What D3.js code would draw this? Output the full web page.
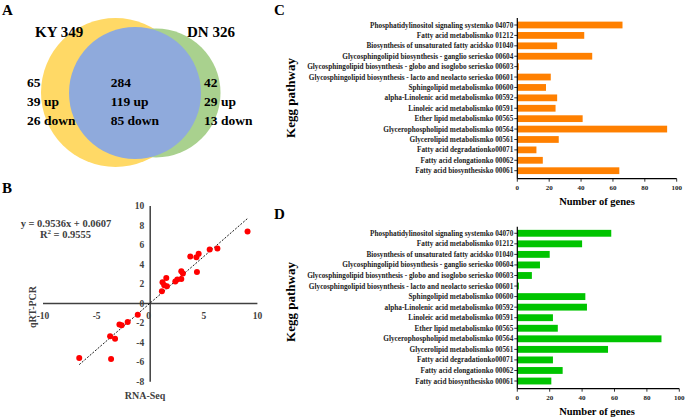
<!DOCTYPE html>
<html>
<head>
<meta charset="utf-8">
<script src="https://cdn.jsdelivr.net/npm/d3@7"></script>
<style>
  body { margin: 0; background: #fff; }
  svg { display: block; font-family: "Liberation Serif", "Times New Roman", serif; font-weight: bold; }
</style>
</head>
<body>
<svg id="fig" width="685" height="418"></svg>
<script>
// Panel A: Venn counts
var vennSets = ["KY 349", "DN 326"];
var vennLeft = ["65", "39 up", "26 down"],
    vennMid = ["284", "119 up", "85 down"],
    vennRight = ["42", "29 up", "13 down"];

// Panel B: RNA-Seq vs qRT-PCR (log2 fold change)
var rnaSeq = [9.08, 5.55, 6.27, 3.74, 4.31, 4.52, 4.36, 2.90, 3.05, 2.90, 2.53, 2.34, 1.50, 1.15, 1.31, 1.56, 1.09,
              -1.16, -2.10, -2.87, -2.66, -3.74, -3.28, -3.65, -6.62];
var qpcr = [7.38, 5.54, 5.64, 4.82, 4.75, 5.10, 3.25, 3.31, 3.08, 2.53, 2.46, 2.26, 2.63, 2.19, 1.88, 1.78, 1.26,
            -1.13, -1.88, -2.15, -2.22, -3.35, -3.59, -5.67, -5.57];
var xTicksB = [-10, -5, 0, 5, 10],
    yTicksB = [-8, -6, -4, -2, 0, 2, 4, 6, 8, 10];
var slope = 0.9536, intercept = 0.0607;

// Panels C, D: KEGG pathways
var pathways = [
  "Phosphatidylinositol signaling systemko 04070",
  "Fatty acid metabolismko 01212",
  "Biosynthesis of unsaturated fatty acidsko 01040",
  "Glycosphingolipid biosynthesis - ganglio seriesko 00604",
  "Glycosphingolipid biosynthesis - globo and isoglobo seriesko 00603",
  "Glycosphingolipid biosynthesis - lacto and neolacto seriesko 00601",
  "Sphingolipid metabolismko 00600",
  "alpha-Linolenic acid metabolismko 00592",
  "Linoleic acid metabolismko 00591",
  "Ether lipid metabolismko 00565",
  "Glycerophospholipid metabolismko 00564",
  "Glycerolipid metabolismko 00561",
  "Fatty acid degradationko00071",
  "Fatty acid elongationko 00062",
  "Fatty acid biosynthesisko 00061"
];
var genesC = [66, 42, 25, 47, 1, 21, 18, 25, 24, 41, 94, 26, 12, 16, 64];
var genesD = [58, 40, 20, 14, 9, 1, 42, 43, 22, 25, 89, 56, 22, 28, 21];
var geneTicks = [0, 20, 40, 60, 80, 100];

var svg = d3.select("#fig");

function panelLetter(t, x, y) {
  svg.append("text").attr("x", x).attr("y", y).attr("font-size", 15).text(t);
}

// ---------- A ----------
panelLetter("A", 2, 15);
var a = svg.append("g");
a.append("circle").attr("cx", 115.5).attr("cy", 92.5).attr("r", 74.5).attr("fill", "#FFD966");
a.append("circle").attr("cx", 156).attr("cy", 93).attr("r", 64.5).attr("fill", "#A9D18E");
a.append("circle").attr("cx", 135).attr("cy", 93).attr("r", 66).attr("fill", "#8FAADC");
a.append("text").attr("x", 35).attr("y", 37).attr("font-size", 15).text(vennSets[0]);
a.append("text").attr("x", 187).attr("y", 37).attr("font-size", 15).text(vennSets[1]);
[[vennLeft, 27], [vennMid, 110.7], [vennRight, 204]].forEach(function(g) {
  g[0].forEach(function(t, i) {
    a.append("text").attr("x", g[1]).attr("y", 87 + i * 19).attr("font-size", 13.5).text(t);
  });
});

// ---------- B ----------
panelLetter("B", 2, 193);
var xB = d3.scaleLinear().domain([-10, 10]).range([43, 257.4]),
    yB = d3.scaleLinear().domain([-8, 10]).range([381.7, 206]);
var b = svg.append("g");
b.append("line").attr("x1", xB(-10)).attr("x2", xB(10)).attr("y1", yB(0)).attr("y2", yB(0))
  .attr("stroke", "#404040").attr("stroke-width", 1.5);
b.append("line").attr("x1", xB(0)).attr("x2", xB(0)).attr("y1", yB(10)).attr("y2", yB(-8))
  .attr("stroke", "#404040").attr("stroke-width", 1.5);
b.selectAll("text.xt").data(xTicksB).enter().append("text")
  .attr("x", function(d) { return d === 0 ? xB(0) - 1.5 : xB(d); })
  .attr("y", yB(0) + 15).attr("text-anchor", "middle").attr("font-size", 9.5)
  .attr("fill", "#404040").text(function(d) { return d; });
b.selectAll("text.yt").data(yTicksB).enter().append("text")
  .attr("x", xB(0) - 6).attr("y", function(d) { return yB(d) + 3.3; })
  .attr("text-anchor", "end").attr("font-size", 9.5).attr("fill", "#404040")
  .text(function(d) { return d; });

var xMin = d3.min(rnaSeq), xMax = d3.max(rnaSeq);
b.append("line").attr("x1", xB(xMin)).attr("y1", yB(slope * xMin + intercept))
  .attr("x2", xB(xMax)).attr("y2", yB(slope * xMax + intercept))
  .attr("stroke", "#000").attr("stroke-width", 0.9).attr("stroke-dasharray", "2,1.5");

b.selectAll("circle").data(rnaSeq).enter().append("circle")
  .attr("cx", function(d) { return xB(d); })
  .attr("cy", function(d, i) { return yB(qpcr[i]); })
  .attr("r", 3).attr("fill", "#FF0000");

b.append("text").attr("x", 66).attr("y", 226.5).attr("text-anchor", "middle").attr("font-size", 10.5)
  .attr("fill", "#404040").text("y = " + slope + "x + " + intercept);
var r2 = b.append("text").attr("x", 65.5).attr("y", 237.5).attr("text-anchor", "middle")
  .attr("font-size", 10.5).attr("fill", "#404040");
r2.append("tspan").text("R");
r2.append("tspan").attr("dy", -4).attr("font-size", 7).text("2");
r2.append("tspan").attr("dy", 4).text(" = 0.9555");

b.append("text").attr("transform", "translate(35.5,307) rotate(-90)").attr("text-anchor", "middle")
  .attr("font-size", 10).attr("fill", "#404040").text("qRT-PCR");
b.append("text").attr("x", 145).attr("y", 398.5).attr("text-anchor", "middle")
  .attr("font-size", 10).attr("fill", "#404040").text("RNA-Seq");

// ---------- C, D ----------
function barPanel(values, color, opt) {
  var x = d3.scaleLinear().domain([0, 100]).range([opt.x0, opt.x1]);
  var y = d3.scaleBand().domain(pathways).range([opt.b0, opt.b1])
    .paddingInner(0.35).paddingOuter(0.175);
  var g = svg.append("g");

  g.selectAll("rect").data(values).enter().append("rect")
    .attr("x", x(0))
    .attr("y", function(d, i) { return y(pathways[i]); })
    .attr("width", function(d) { return x(d) - x(0); })
    .attr("height", y.bandwidth())
    .attr("fill", color);

  // y axis
  g.append("line").attr("x1", x(0)).attr("x2", x(0)).attr("y1", opt.top).attr("y2", opt.bottom)
    .attr("stroke", "#000").attr("stroke-width", 1.2);
  g.selectAll("line.yt").data(pathways).enter().append("line")
    .attr("x1", x(0) - 3).attr("x2", x(0))
    .attr("y1", function(d) { return y(d) + y.bandwidth() / 2; })
    .attr("y2", function(d) { return y(d) + y.bandwidth() / 2; })
    .attr("stroke", "#000").attr("stroke-width", 0.8);
  g.selectAll("text.yl").data(pathways).enter().append("text")
    .attr("x", x(0) - 4)
    .attr("y", function(d) { return y(d) + y.bandwidth() / 2 + 2.5; })
    .attr("text-anchor", "end").attr("font-size", 7.25).attr("fill", "#222")
    .text(function(d) { return d; });

  // x axis
  g.append("line").attr("x1", x(0)).attr("x2", x(100)).attr("y1", opt.bottom).attr("y2", opt.bottom)
    .attr("stroke", "#000").attr("stroke-width", 1.2);
  g.selectAll("line.xt").data(geneTicks).enter().append("line")
    .attr("x1", function(d) { return x(d); }).attr("x2", function(d) { return x(d); })
    .attr("y1", opt.bottom).attr("y2", opt.bottom + 3)
    .attr("stroke", "#000").attr("stroke-width", 0.8);
  g.selectAll("text.xl").data(geneTicks).enter().append("text")
    .attr("x", function(d) { return x(d); }).attr("y", opt.bottom + 11)
    .attr("text-anchor", "middle").attr("font-size", 7).attr("fill", "#222")
    .text(function(d) { return d; });

  g.append("text").attr("x", 597).attr("y", opt.bottom + 26.5).attr("text-anchor", "middle")
    .attr("font-size", 10.5).text("Number of genes");
  g.append("text").attr("transform", "translate(295," + opt.mid + ") rotate(-90)")
    .attr("text-anchor", "middle").attr("font-size", 13).text("Kegg pathway");
}

panelLetter("C", 274, 15);
barPanel(genesC, "#FF8000", {x0: 517.3, x1: 676.7, b0: 19.8, b1: 175.9, top: 18, bottom: 178.7, mid: 98});
panelLetter("D", 274, 219);
barPanel(genesD, "#00C400", {x0: 517.3, x1: 679.3, b0: 228, b1: 386.3, top: 226.7, bottom: 388.7, mid: 302});
</script>
</body>
</html>
